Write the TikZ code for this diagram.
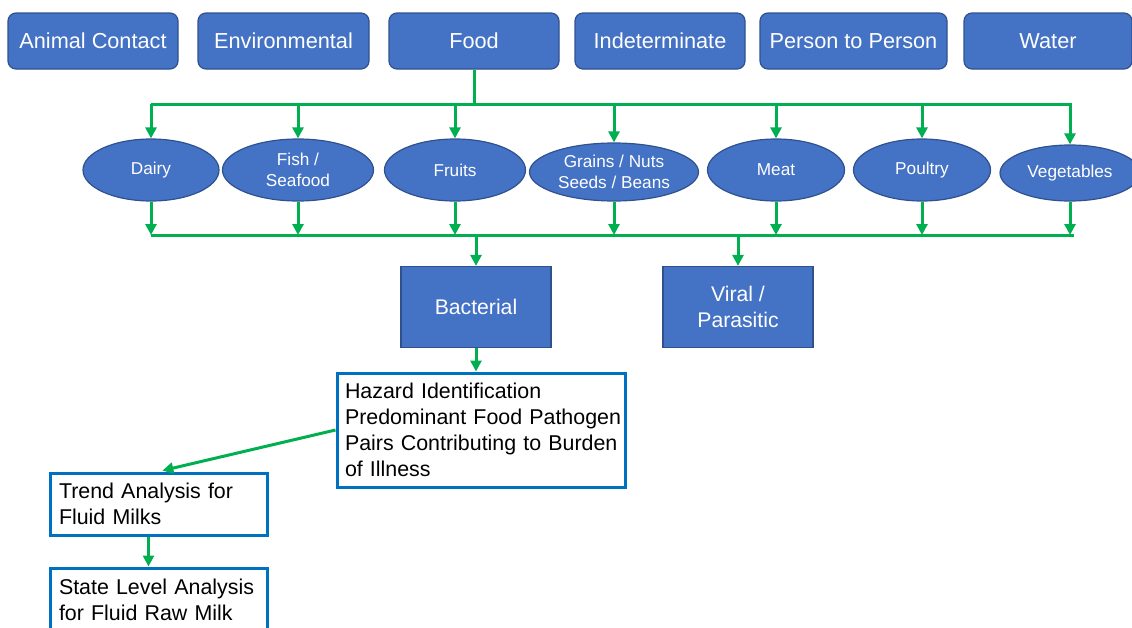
\documentclass[tikz,border=0pt]{standalone}
\usepackage{fontspec}
\setmainfont{Liberation Sans}
\usetikzlibrary{arrows.meta,shapes.geometric}
\definecolor{boxblue}{HTML}{4472C4}
\definecolor{boxedge}{HTML}{2F528F}
\definecolor{arrgreen}{HTML}{00B050}
\definecolor{outblue}{HTML}{0070C0}
\begin{document}
\begin{tikzpicture}[x=1pt,y=-1pt,
  topbox/.style={draw=boxedge, line width=1.2pt, fill=boxblue, rounded corners=8pt,
    text=white, font=\fontsize{21.7}{26}\selectfont, minimum height=56pt, inner sep=0pt},
  foodell/.style={ellipse, draw=boxedge, line width=1.2pt, fill=boxblue, text=white,
    font=\fontsize{17.2}{21}\selectfont, minimum height=62pt, inner sep=0pt, align=center},
  ptype/.style={rectangle, draw=boxedge, line width=1.2pt, fill=boxblue, text=white,
    font=\fontsize{21.2}{26}\selectfont, minimum width=150pt, minimum height=81pt, align=center},
  outbox/.style={rectangle, draw=outblue, line width=3pt, fill=white, text=black,
    font=\fontsize{21.4}{26}\selectfont, align=left},
  conn/.style={draw=arrgreen, line width=3pt},
  arr/.style={draw=arrgreen, line width=3pt, -{Triangle[length=11pt,width=11pt]}}
]
\useasboundingbox (0,0) rectangle (1132,627);

% top categories
\node[topbox, minimum width=170pt] (animal) at (93,41) {Animal Contact};
\node[topbox, minimum width=171pt] (env) at (283.5,41) {Environmental};
\node[topbox, minimum width=170pt] (food) at (474,41) {Food};
\node[topbox, minimum width=170pt] (indet) at (660,41) {Indeterminate};
\node[topbox, minimum width=187pt] (person) at (853.5,41) {Person to Person};
\node[topbox, minimum width=168pt] (water) at (1048,41) {Water};

% food ellipses
\node[foodell, minimum width=136pt] (dairy) at (151,170) {Dairy};
\node[foodell, minimum width=151pt] (fish) at (298,170) {Fish /\\Seafood};
\node[foodell, minimum width=141pt] (fruits) at (455,170) {Fruits};
\node[foodell, minimum width=169pt, minimum height=58pt] (grains) at (614,172) {Grains / Nuts\\Seeds / Beans};
\node[foodell, minimum width=137pt] (meat) at (776,170) {Meat};
\node[foodell, minimum width=137pt] (poultry) at (922,170) {Poultry};
\node[foodell, minimum width=140pt, minimum height=56pt] (veg) at (1070,173) {Vegetables};

% pathogen types
\node[ptype] (bact) at (476,307) {Bacterial};
\node[ptype] (viral) at (738,307) {Viral /\\Parasitic};

% analysis boxes
\node[outbox, minimum width=286pt, minimum height=114pt, text width=272pt, inner xsep=8pt] (haz) at (481,430)
  {\mbox{Hazard Identification}\\\mbox{Predominant Food Pathogen}\\\mbox{Pairs Contributing to Burden}\\\mbox{of Illness}};
\node[outbox, minimum width=217pt, minimum height=62pt, text width=199pt, inner xsep=9pt] (trend) at (158.5,504)
  {Trend Analysis for\\Fluid Milks};
\node[outbox, minimum width=217pt, minimum height=64pt, text width=199pt, inner xsep=9pt] (state) at (158.5,600)
  {State Level Analysis\\for Fluid Raw Milk};

% buses
\coordinate (tbus) at (474,104);
\coordinate (tl) at (151,104);
\coordinate (tr) at (1072,104);
\coordinate (bl) at (151,235);
\coordinate (br) at (1074,235);

\draw[conn] (food.south) -- (tbus);
\draw[conn] (tl) -- (tr);
\foreach \n in {dairy,fish,fruits,grains,meat,poultry,veg}
  \draw[arr] (\n.north |- tl) -- (\n.north);
\foreach \n in {dairy,fish,fruits,grains,meat,poultry,veg}
  \draw[arr] (\n.south) -- (\n.south |- bl);
\draw[conn] (bl) -- (br);
\draw[arr] (bact.north |- bl) -- (bact.north);
\draw[arr] (viral.north |- bl) -- (viral.north);

\draw[arr] (bact.south) -- (bact.south |- haz.north);
\draw[arr, shorten >=4pt] (haz.west) -- (trend.north);
\draw[arr] ([xshift=-10pt]trend.south) -- ([xshift=-10pt]state.north);
\end{tikzpicture}
\end{document}
